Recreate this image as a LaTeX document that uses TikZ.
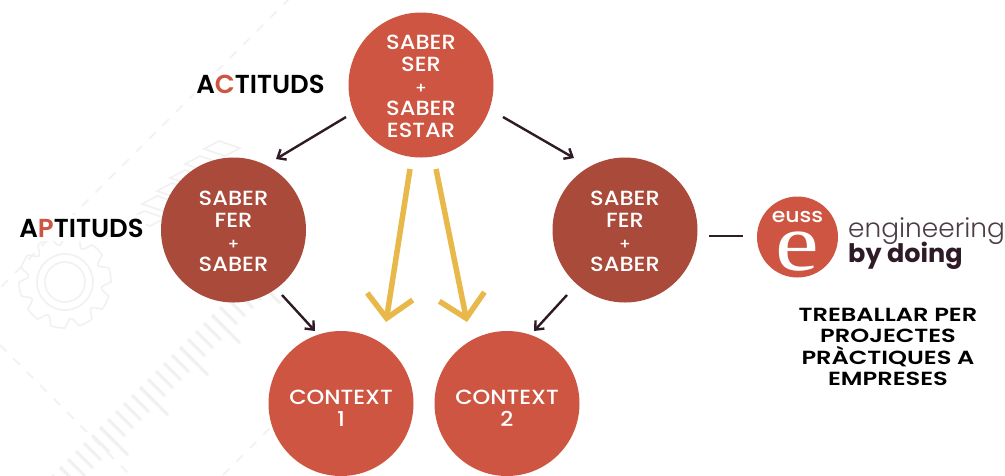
\documentclass[tikz,border=0pt]{standalone}
\usepackage{fontspec}
\setmainfont{Poppins}[UprightFont=*-Medium,BoldFont=*-SemiBold]
\newfontfamily\wmed{Poppins}[UprightFont=*-Medium,FakeStretch=1.1]
\newfontfamily\wsemi{Poppins}[UprightFont=*-SemiBold,FakeStretch=1.27]
\newfontfamily\lightf{Poppins}[UprightFont=*-Light]
\newfontfamily\xbf{Poppins}[UprightFont=*-Bold]
\newfontfamily\serf{Liberation Serif}[FakeStretch=1.2]
\usetikzlibrary{arrows.meta}
\definecolor{red1}{HTML}{CD5541}
\definecolor{red2}{HTML}{AA4A3A}
\definecolor{ink}{HTML}{2E1B26}
\definecolor{gold}{HTML}{E8B84B}
\definecolor{faint}{HTML}{F1F1F1}
\newcommand{\plusline}{{\fontsize{15}{22}\selectfont +}}
\newcommand{\lift}[1]{\rule{0pt}{#1}}
\tikzset{
 x=1pt,y=-1pt,
 circ/.style={circle,minimum size=145pt,inner sep=0pt,text=white,align=center,font=\wmed\fontsize{20.5}{22}\selectfont},
 top/.style={circ,fill=red1},
 mid/.style={circ,fill=red2},
 arr/.style={draw=ink,line width=2.4pt,-{Straight Barb[length=7pt,width=12pt,line width=2.4pt]}},
 gold arr/.style={draw=gold,line width=5.5pt,miter limit=10,-{Straight Barb[length=22pt,width=46pt,line width=5.5pt]}},
 lab/.style={font=\fontsize{26}{28}\selectfont\bfseries,text=black,inner sep=2pt,fill=white,minimum height=26pt},
 bgl/.style={draw=faint,line width=1.6pt},
 bgd/.style={bgl,dash pattern=on 9pt off 10pt},
 hatch/.style={draw=faint,line width=3pt},
}
\begin{document}
\begin{tikzpicture}
\useasboundingbox (0,0) rectangle (1005,475);
\fill[white] (0,0) rectangle (1005,475);
% background
\draw[bgd] (290,-2) -- (0,288);
\draw[bgd] (0,345) -- (130,475);
\draw[bgd] (223,475) -- (277,421);
\foreach \k in {-13,...,14}{
 \draw[hatch] ({140+\k*8},{387-\k*8}) -- ++(17,17);
}
\foreach \k in {-10,-5,0,5,9,14}{
 \draw[hatch] ({140+\k*8},{387-\k*8}) -- ++(28,28);
}
\foreach \c/\d in {222/148,203/163,188/177,175/190,160/203,147/218}{
 \draw[bgl] (\c-18,\d+1) -- (\c-3,\d-7) -- (\c+18,\d) -- (\c+3,\d+8) -- cycle;
}
\draw[bgl] (65,282) circle (20) (65,282) circle (28);
\draw[bgl] plot[domain=0:360,samples=240,smooth] ({65+(46-9*max(0,sin(10*\x)))*cos(\x)},{282+(46-9*max(0,sin(10*\x)))*sin(\x)}) -- cycle;
% circles
\node[top] (ss) at (421,85) {\lift{18pt}SABER\\SER\\\plusline\\SABER\\ESTAR};
\node[mid] (fl) at (233.5,230) {\lift{18pt}SABER\\FER\\\plusline\\SABER};
\node[mid] (fr) at (625,230) {\lift{18pt}SABER\\FER\\\plusline\\SABER};
\node[top] (c1) at (341,403.5) {\lift{23pt}CONTEXT\\1};
\node[top] (c2) at (507,403.5) {\lift{23pt}CONTEXT\\2};
% anchors
\coordinate (a1) at (346,117); \coordinate (a1e) at (276,159);
\coordinate (a2) at (503,117); \coordinate (a2e) at (574,158);
\coordinate (a3) at (282,295); \coordinate (a3e) at (315,331);
\coordinate (a4) at (567,295); \coordinate (a4e) at (534,331);
\coordinate (g1) at (410,169); \coordinate (g1e) at (386,322);
\coordinate (g2) at (436,169); \coordinate (g2e) at (467,322);
\draw[arr] (a1) -- (a1e);
\draw[arr] (a2) -- (a2e);
\draw[arr] (a3) -- (a3e);
\draw[arr] (a4) -- (a4e);
\draw[gold arr] (g1) -- (g1e);
\draw[gold arr] (g2) -- (g2e);
% labels
\node[lab] (act) at (260.5,84) {A{\color{red1}C}TITUDS};
\node[lab] (apt) at (81.5,228) {A{\color{red1}P}TITUDS};
% logo
\coordinate (d1) at (709,236); \coordinate (d2) at (743,236);
\draw[ink,line width=2.4pt] (d1) -- (d2);
\node[circle,fill=red1,minimum size=81pt,inner sep=0pt] (logo) at (797.5,237) {};
\node[text=white,font=\wmed\fontsize{20}{20}\selectfont,inner sep=0pt,anchor=base] (euss) at (797.5,222) {euss};
\node[text=white,font=\serf\fontsize{82}{82}\selectfont,inner sep=0pt,anchor=base] (e) at (797.5,270) {e};
\node[text=ink!85,font=\lightf\fontsize{26.4}{28}\selectfont,inner sep=0pt,anchor=base west] (eng) at (848,237) {engineering};
\node[text=ink,font=\xbf\fontsize{25.5}{28}\selectfont,inner sep=0pt,anchor=base west] (doing) at (848,262) {by doing};
\node[align=center,font=\wsemi\fontsize{19}{21.3}\selectfont,text=black,inner sep=0pt] (t) at (888,347) {TREBALLAR PER\\PROJECTES\\PRÀCTIQUES A\\EMPRESES};
\end{tikzpicture}
\end{document}
